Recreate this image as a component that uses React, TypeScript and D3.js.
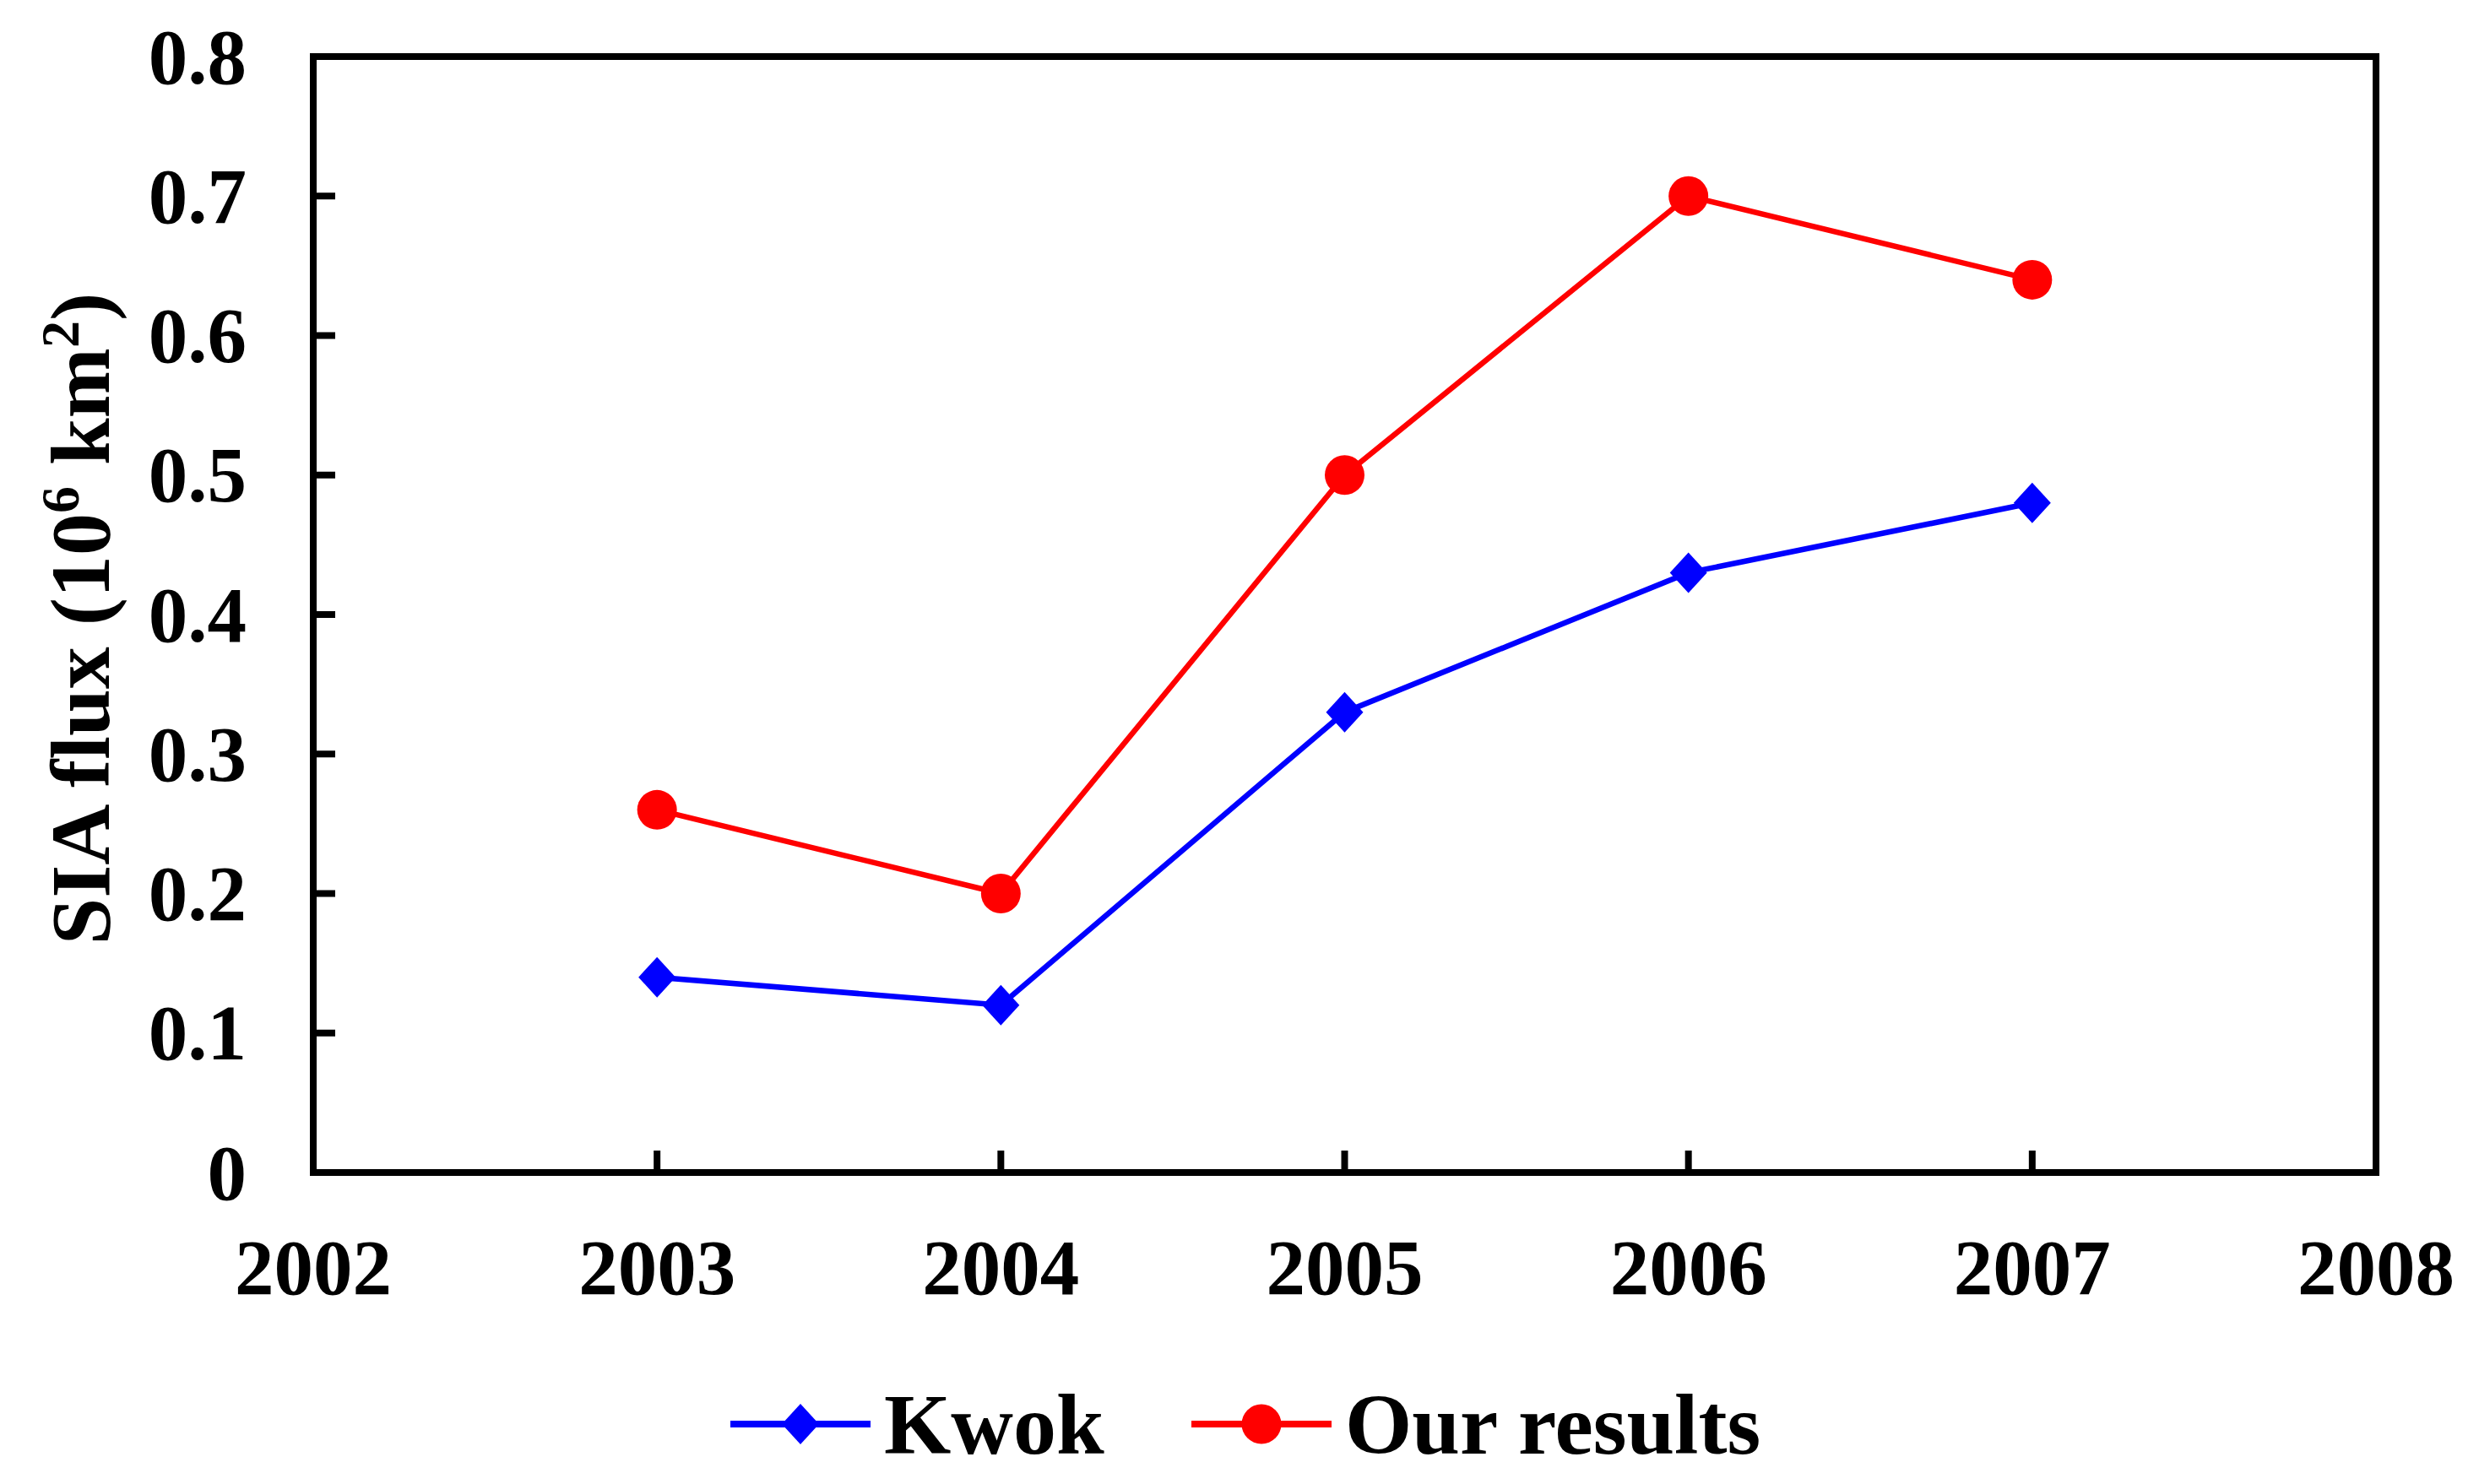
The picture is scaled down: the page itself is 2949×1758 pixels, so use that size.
import React, { useEffect, useRef } from "react";
import * as d3 from "d3";

const years = [2003, 2004, 2005, 2006, 2007];
const kwok = [0.14, 0.12, 0.33, 0.43, 0.48];
const ours = [0.26, 0.2, 0.5, 0.7, 0.64];
const xTicks = [2002, 2003, 2004, 2005, 2006, 2007, 2008];
const yTicks = [0, 0.1, 0.2, 0.3, 0.4, 0.5, 0.6, 0.7, 0.8];
const seriesNames = ["Kwok", "Our results"];
const seriesColors = ["#0000FF", "#FF0000"];

const W = 2949;
const H = 1758;
const FONT = "'Liberation Serif', 'Times New Roman', serif";

export default function App() {
  const ref = useRef<SVGSVGElement>(null);
  useEffect(() => {
    const svg = d3.select(ref.current);
    svg.selectAll("*").remove();
    const left = 371, right = 2814, top = 67, bottom = 1389;
    const x = d3.scaleLinear().domain([2002, 2008]).range([left, right]);
    const y = d3.scaleLinear().domain([0, 0.8]).range([bottom, top]);

    svg.append("rect").attr("width", W).attr("height", H).attr("fill", "#fff");

    // ticks inward
    const tickLen = 26;
    svg.append("g").selectAll("line").data(yTicks).join("line")
      .attr("x1", left).attr("x2", left + tickLen)
      .attr("y1", (d) => y(d)).attr("y2", (d) => y(d))
      .attr("stroke", "#000").attr("stroke-width", 8);
    svg.append("g").selectAll("line").data(xTicks).join("line")
      .attr("x1", (d) => x(d)).attr("x2", (d) => x(d))
      .attr("y1", bottom).attr("y2", bottom - tickLen)
      .attr("stroke", "#000").attr("stroke-width", 8);

    // frame
    svg.append("rect").attr("x", left).attr("y", top)
      .attr("width", right - left).attr("height", bottom - top)
      .attr("fill", "none").attr("stroke", "#000").attr("stroke-width", 8);

    // tick labels
    svg.append("g").selectAll("text").data(yTicks).join("text")
      .attr("x", 292).attr("y", (d) => y(d))
      .attr("dy", "0.34em")
      .attr("text-anchor", "end")
      .attr("font-family", FONT).attr("font-weight", "bold").attr("font-size", 93)
      .text((d) => (d === 0 ? "0" : d3.format(".1f")(d)));
    svg.append("g").selectAll("text").data(xTicks).join("text")
      .attr("x", (d) => x(d)).attr("y", 1533)
      .attr("text-anchor", "middle")
      .attr("font-family", FONT).attr("font-weight", "bold").attr("font-size", 93)
      .text((d) => String(d));

    // y title
    const t = svg.append("text")
      .attr("transform", `translate(129, 733) rotate(-90)`)
      .attr("text-anchor", "middle")
      .attr("font-family", FONT).attr("font-weight", "bold").attr("font-size", 100);
    t.append("tspan").text("SIA flux (10");
    t.append("tspan").attr("font-size", 64).attr("dy", -36).text("6");
    t.append("tspan").attr("dy", 36).text(" km");
    t.append("tspan").attr("font-size", 64).attr("dy", -36).text("2");
    t.append("tspan").attr("dy", 36).text(")");

    const line = d3.line<number>().x((_, i) => x(years[i])).y((d) => y(d));
    const diamond = (cx: number, cy: number) =>
      `M${cx},${cy - 24}L${cx + 22},${cy}L${cx},${cy + 24}L${cx - 22},${cy}Z`;

    [kwok, ours].forEach((vals, si) => {
      svg.append("path").datum(vals).attr("d", line)
        .attr("fill", "none").attr("stroke", seriesColors[si]).attr("stroke-width", 6.5);
      if (si === 0) {
        svg.append("g").selectAll("path").data(vals).join("path")
          .attr("d", (d, i) => diamond(x(years[i]), y(d)))
          .attr("fill", seriesColors[si]);
      } else {
        svg.append("g").selectAll("circle").data(vals).join("circle")
          .attr("cx", (_, i) => x(years[i])).attr("cy", (d) => y(d)).attr("r", 23.5)
          .attr("fill", seriesColors[si]);
      }
    });

    // legend
    const ly = 1687;
    const legendItems = [
      { x0: 865, x1: 1031, tx: 1047 },
      { x0: 1411, x1: 1577, tx: 1593 },
    ];
    legendItems.forEach((it, si) => {
      svg.append("line").attr("x1", it.x0).attr("x2", it.x1).attr("y1", ly).attr("y2", ly)
        .attr("stroke", seriesColors[si]).attr("stroke-width", 8);
      const cx = (it.x0 + it.x1) / 2;
      if (si === 0) {
        svg.append("path").attr("d", diamond(cx, ly)).attr("fill", seriesColors[si]);
      } else {
        svg.append("circle").attr("cx", cx).attr("cy", ly).attr("r", 23.5).attr("fill", seriesColors[si]);
      }
      svg.append("text").attr("x", it.tx).attr("y", ly + 35)
        .attr("font-family", FONT).attr("font-weight", "bold").attr("font-size", 102)
        .text(seriesNames[si]);
    });
  }, []);
  return (
    <svg ref={ref} width={W} height={H}
      style={{ position: "absolute", left: 0, top: 0, display: "block" }} />
  );
}
